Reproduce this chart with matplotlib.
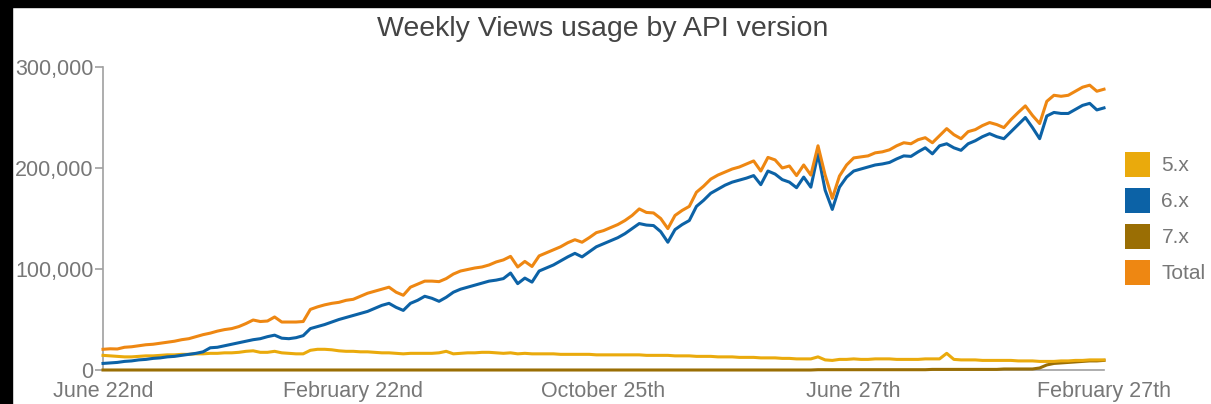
import numpy as np
import matplotlib

matplotlib.use('Agg')
import matplotlib.pyplot as plt
from matplotlib.patches import Patch, Rectangle
from matplotlib.ticker import FuncFormatter

plt.rcParams['font.family'] = ['Liberation Sans', 'DejaVu Sans']

# weekly views, in thousands
total = [20.5, 21, 20.8, 22.5, 23, 24, 25, 25.5, 26.5, 27.5,
         28.5, 30, 31, 33, 35, 36.5, 38.5, 40, 41, 43,
         46, 49.5, 48, 48.5, 52.5, 47.5, 47.5, 47.5, 48, 60,
         62.5, 64.5, 66, 67, 69, 70, 73, 76, 78, 80,
         82, 77, 74, 82, 85, 88, 88, 87.5, 90.5, 95,
         98, 99.5, 101, 102, 104, 107, 109, 112.5, 102, 107.5,
         102.5, 113, 116, 119, 122, 126, 129, 126.5, 131, 136,
         138, 141, 144, 148, 153, 159.5, 156, 155.5, 150, 140,
         153, 158, 162, 176, 182, 189, 193, 196, 199, 201,
         204, 207, 197, 210.5, 208, 200, 202, 192.5, 203, 193,
         222, 193, 170, 192, 203, 210, 211, 212, 215, 216,
         218, 222, 225, 224, 228, 230, 225, 232, 239, 233,
         229, 236, 238, 242, 245, 243, 240, 248, 255, 261.5,
         252, 244, 266, 272, 271, 272, 276, 280, 282, 276,
         278]

v6 = [6.5, 7, 7.5, 8.5, 9, 10, 10.5, 11.5, 12, 13,
      13.5, 14.5, 15.5, 16.5, 18, 22, 22.5, 24, 25.5, 27,
      28.5, 30, 31, 33, 34.5, 31.5, 31, 32, 34, 41,
      43, 45, 47.5, 50, 52, 54, 56, 58, 61, 64,
      66, 62, 59, 66, 69, 73, 71, 68, 72, 77,
      80, 82, 84, 86, 88, 89, 90.5, 96, 85.5, 91,
      87, 98, 101, 104, 108, 112, 115.5, 112, 117, 122,
      125, 128, 131, 135, 140, 145, 143.5, 143, 137, 126.5,
      139, 144, 148, 162, 168, 175, 179, 183, 186, 188,
      190, 192.5, 183.5, 197, 194, 188.5, 186, 180.5, 191, 181,
      214, 178, 159, 181, 191, 197, 199, 201, 203, 204,
      205.5, 209, 212, 211.5, 216, 220, 214, 222, 224, 220,
      217.5, 224, 227, 231, 234, 231, 229, 236, 243, 250,
      240, 229, 251.5, 255, 254, 254, 258, 262, 264, 257.5,
      259.5]

v5 = [14.5, 14, 13.5, 13, 13, 13.5, 14, 14, 14.5, 15,
      15, 15.5, 15.5, 16, 16, 16.5, 16.5, 17, 17, 17.5,
      18.5, 19, 17.5, 17.5, 18.5, 17, 16.5, 16, 16, 19.5,
      20.5, 20.5, 20, 19, 18.5, 18.5, 18, 18, 17.5, 17,
      17, 16.5, 16, 16.5, 16.5, 16.5, 16.5, 17, 18.5, 16,
      16.5, 17, 17, 17.5, 17.5, 17, 16.5, 17, 16, 16.5,
      16, 16, 16, 16, 15.5, 15.5, 15.5, 15.5, 15.5, 15,
      15, 15, 15, 15, 15, 15, 14.5, 14.5, 14.5, 14.5,
      14, 14, 14, 13.5, 13.5, 13.5, 13, 13, 13, 12.5,
      12.5, 12.5, 12, 12, 12, 11.5, 11.5, 11, 11, 11,
      13, 10, 9.5, 10.5, 10.5, 11, 10.5, 10.5, 11, 11,
      11, 10.5, 10.5, 10.5, 10.5, 11, 11, 11, 16.5, 10.5,
      10, 10, 10, 9.5, 9.5, 9.5, 9.5, 9.5, 9, 9,
      9, 8.5, 8.5, 8.5, 9, 9, 9.5, 9.5, 10, 10,
      10]

v7 = ([0] * 100 + [0.3] * 16 + [0.6] * 10 + [1.0] * 5 +
      [2, 5, 6.5, 7, 7.5, 8, 8.5, 9, 9, 9.5])

tick_weeks = [0, 35, 70, 105, 140]
tick_labels = ['June 22nd', 'February 22nd', 'October 25th', 'June 27th', 'February 27th']

series = ['5.x', '6.x', '7.x', 'Total']
colors = {'5.x': '#EAAA0C', '6.x': '#0C62A6', '7.x': '#9A6E04', 'Total': '#EE8712'}

for s in (total, v6, v5, v7):
    assert len(s) == 141

W, H = 1211, 404
fig = plt.figure(figsize=(W / 100, H / 100), dpi=100, facecolor='white')
fig.patches.append(Rectangle((0, 1 - 7 / H), 1, 7 / H, transform=fig.transFigure,
                             color='black', zorder=10))
fig.patches.append(Rectangle((0, 0), 12 / W, 1, transform=fig.transFigure,
                             color='black', zorder=10))

ax = fig.add_axes([103 / W, (H - 370) / H, (1104 - 103) / W, (370 - 67) / H])
weeks = np.arange(len(total))

data = {'5.x': v5, '6.x': v6, '7.x': v7, 'Total': total}
for name in ['7.x', '5.x', '6.x', 'Total']:
    ax.plot(weeks, np.array(data[name]) * 1000, color=colors[name], lw=2.2,
            clip_on=False, solid_joinstyle='round', zorder=3)

ax.set_xlim(0, 140)
ax.set_ylim(0, 300000)
ax.set_yticks([0, 100000, 200000, 300000])
ax.yaxis.set_major_formatter(FuncFormatter(lambda v, p: f'{v:,.0f}'))
ax.set_xticks(tick_weeks)
ax.set_xticklabels(tick_labels)

for side in ['top', 'right']:
    ax.spines[side].set_visible(False)
for side in ['left', 'bottom']:
    ax.spines[side].set_color('#a0a0a0')
    ax.spines[side].set_linewidth(1.2)

ax.tick_params(axis='y', length=6, width=1.2, color='#a0a0a0', pad=1,
               labelsize=15.5, labelcolor='#777777')
ax.tick_params(axis='x', length=0, pad=8, labelsize=15.5, labelcolor='#777777')

fig.text(603 / W, 1 - 29 / H, 'Weekly Views usage by API version', ha='center',
         va='center', fontsize=20.5, color='#444444')

handles = [Patch(facecolor=colors[s], edgecolor='none') for s in series]
fig.legend(handles, series, loc='upper left', bbox_to_anchor=(1125 / W, 1 - 152 / H),
           frameon=False, fontsize=15, handlelength=1.2, handleheight=1.47,
           handletextpad=0.55, labelspacing=0.52, borderpad=0, borderaxespad=0,
           labelcolor='#777777')

fig.savefig('out.png', dpi=100, facecolor='white')
